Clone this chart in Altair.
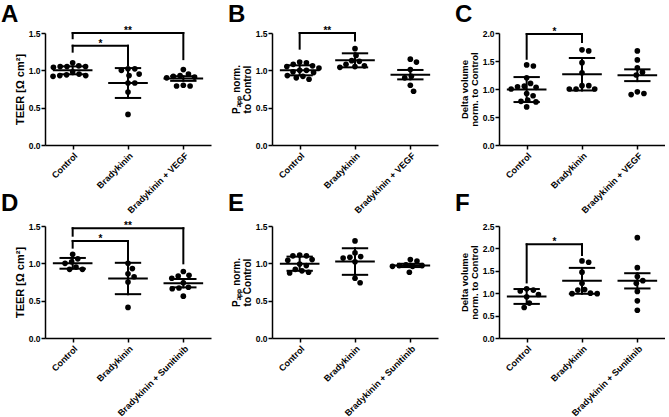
import json

import altair as alt
import pandas as pd

# ---- group names -----------------------------------------------------------
VEGF_GROUPS = ["Control", "Bradykinin", "Bradykinin + VEGF"]
SUN_GROUPS = ["Control", "Bradykinin", "Bradykinin + Sunitinib"]

# ---- A: TEER, VEGF series ----------------------------------------------------
a_control = [1.10, 1.06, 1.05, 1.05, 1.05, 1.04, 0.98, 0.95, 0.94, 0.93, 0.93, 0.92]
a_brady = [1.02, 1.02, 1.00, 0.95, 0.93, 0.83, 0.83, 0.71, 0.41]
a_treat = [1.01, 0.95, 0.93, 0.92, 0.91, 0.90, 0.80, 0.79, 0.79]
a_mean = [1.00, 0.83, 0.89]
a_err = [0.053, 0.20, 0.031]
a_sig = [("**", 0, 2, 1.50, 1.43, 1.15), ("*", 0, 1, 1.33, 1.25, 1.07)]

# ---- B: Papp, VEGF series ----------------------------------------------------
b_control = [1.11, 1.10, 1.08, 1.06, 1.05, 1.03, 1.00, 1.00, 0.98, 0.97, 0.93, 0.92, 0.90, 0.88]
b_brady = [1.29, 1.20, 1.13, 1.12, 1.08, 1.06, 1.05, 1.04]
b_treat = [1.15, 1.11, 1.01, 0.92, 0.90, 0.80, 0.72]
b_mean = [1.00, 1.134, 0.942]
b_err = [0.067, 0.094, 0.063]
b_sig = [("**", 0, 1, 1.50, 1.29, 1.40)]

# ---- C: delta volume, VEGF series ---------------------------------------------
c_control = [1.43, 1.41, 1.20, 1.10, 1.05, 1.04, 1.03, 1.00, 0.92, 0.88, 0.80, 0.78, 0.77, 0.68]
c_brady = [1.70, 1.68, 1.47, 1.29, 1.06, 1.06, 1.00, 1.00, 1.00]
c_treat = [1.68, 1.52, 1.38, 1.30, 1.25, 0.95, 0.90, 0.92]
c_mean = [0.99, 1.264, 1.246]
c_err = [0.223, 0.29, 0.105]
c_sig = [("*", 0, 1, 1.98, 1.54, 1.84)]

# ---- D: TEER, Sunitinib series -------------------------------------------------
d_control = [1.12, 1.06, 1.02, 1.00, 0.95, 0.92, 0.92]
d_brady = [1.00, 0.93, 0.86, 0.82, 0.75, 0.41]
d_treat = [0.89, 0.84, 0.83, 0.80, 0.74, 0.68, 0.67, 0.66, 0.56]
d_mean = [1.00, 0.797, 0.734]
d_err = [0.072, 0.21, 0.056]
d_sig = [("**", 0, 2, 1.47, 1.37, 1.00), ("*", 0, 1, 1.30, 1.21, 1.03)]

# ---- E: Papp, Sunitinib series -------------------------------------------------
e_control = [1.11, 1.10, 1.10, 1.05, 1.04, 0.99, 0.97, 0.92, 0.90, 0.88, 0.87]
e_brady = [1.30, 1.14, 1.09, 1.08, 1.07, 1.02, 0.80, 0.74]
e_treat = [1.05, 1.03, 0.98, 0.97, 0.97, 0.96, 0.96, 0.88]
e_mean = [0.995, 1.024, 0.972]
e_err = [0.095, 0.178, 0.022]
e_sig = []

# ---- F: delta volume, Sunitinib series -----------------------------------------
f_control = [1.10, 1.07, 1.05, 0.97, 0.92, 0.78, 0.68]
f_brady = [1.72, 1.69, 1.47, 1.22, 1.08, 1.07, 1.00, 0.99, 0.99]
f_treat = [2.24, 1.57, 1.37, 1.28, 1.22, 1.04, 0.83, 0.62]
f_mean = [0.927, 1.276, 1.276]
f_err = [0.166, 0.289, 0.17]
f_sig = [("*", 0, 1, 2.09, 1.24, 1.85)]

# ---- geometry / style ----------------------------------------------------------
W, H = 166, 112
FONT = "Liberation Sans"
DOT_SIZE = 32
DOT_GAP = 6.8          # centre-to-centre spacing of dots in the swarm (px)
MEAN_HALF = 0.34       # half length of the mean line (x units)
CAP_HALF = 0.22        # half length of the error-bar caps (x units)


def swarm(values, px_per_unit):
    """Greedy beeswarm: horizontal pixel offsets so that dots do not overlap."""
    placed = []
    out = [0.0] * len(values)
    for i in sorted(range(len(values)), key=lambda k: -values[k]):
        yp = values[i] * px_per_unit
        blocked = []
        for xo, yo in placed:
            dy = abs(yp - yo)
            if dy < DOT_GAP:
                half = (DOT_GAP ** 2 - dy ** 2) ** 0.5
                blocked.append((xo - half, xo + half))
        cands = [0.0] + [e for iv in blocked for e in iv]
        free = [c for c in cands if all(not (lo + 1e-9 < c < hi - 1e-9) for lo, hi in blocked)]
        best = min(free, key=lambda c: (round(abs(c), 6), -c))
        placed.append((best, yp))
        out[i] = best
    return out


def panel(letter, letter_dy, groups, series, means, errs, ymax, ytitle, title_size, sig):
    step_px = W / 3.0
    y_px = H / ymax

    pts = []
    for gi, vals in enumerate(series):
        for v, off in zip(vals, swarm(vals, y_px)):
            pts.append({"x": gi + off / step_px, "y": v})
    pts = pd.DataFrame(pts)

    segs = []
    for gi, (m, e) in enumerate(zip(means, errs)):
        segs.append({"x": gi - MEAN_HALF, "x2": gi + MEAN_HALF, "y": m, "y2": m})
        segs.append({"x": gi, "x2": gi, "y": m - e, "y2": m + e})
        segs.append({"x": gi - CAP_HALF, "x2": gi + CAP_HALF, "y": m + e, "y2": m + e})
        segs.append({"x": gi - CAP_HALF, "x2": gi + CAP_HALF, "y": m - e, "y2": m - e})
    stars = []
    for label, g1, g2, top, low1, low2 in sig:
        segs.append({"x": g1, "x2": g2, "y": top, "y2": top})
        segs.append({"x": g1, "x2": g1, "y": low1, "y2": top})
        segs.append({"x": g2, "x2": g2, "y": low2, "y2": top})
        stars.append({"x": (g1 + g2) / 2.0, "y": top, "t": label})
    segs = pd.DataFrame(segs)

    expr = "[" + ",".join(json.dumps(g) for g in groups) + "][datum.value]"
    xs = alt.Scale(domain=[-0.5, 2.5], nice=False, zero=False)
    ys = alt.Scale(domain=[0, ymax], nice=False, zero=True)
    x_axis = alt.Axis(values=[0, 1, 2], labelExpr=expr, labelAngle=-45, labelOverlap=False,
                      labelFontSize=9, labelPadding=2, title=None)
    ticks = [i * 0.5 for i in range(int(round(ymax / 0.5)) + 1)]
    y_axis = alt.Axis(values=ticks, format=".1f", title=ytitle, labelOverlap=False,
                      titleFontSize=title_size, titlePadding=3, titleLineHeight=title_size + 0.5)

    X = alt.X("x:Q", scale=xs, axis=x_axis)
    Y = alt.Y("y:Q", scale=ys, axis=y_axis)

    dots = alt.Chart(pts).mark_circle(size=DOT_SIZE, color="black", opacity=1).encode(x=X, y=Y)
    lines = alt.Chart(segs).mark_rule(color="black", strokeWidth=2, strokeCap="square").encode(
        x=X, x2="x2:Q", y=Y, y2="y2:Q")
    layers = [lines, dots]
    if stars:
        layers.append(
            alt.Chart(pd.DataFrame(stars)).mark_text(
                font=FONT, fontWeight="bold", fontSize=10, baseline="alphabetic", dy=1, color="#000000"
            ).encode(x=X, y=Y, text="t:N")
        )
    layers.append(
        alt.Chart(pd.DataFrame({"t": [letter]})).mark_text(
            font=FONT, fontWeight="bold", fontSize=24, align="left", baseline="alphabetic", color="#000000"
        ).encode(x=alt.value(-44), y=alt.value(letter_dy), text="t:N")
    )
    return alt.layer(*layers).properties(width=W, height=H)


TEER = "TEER [Ω cm²]"
PAPP = ["Pₐₚₚ norm.", "to Control"]
DVOL = ["Delta volume", "norm. to Control"]

panels = [
    panel("A", -11, VEGF_GROUPS, [a_control, a_brady, a_treat], a_mean, a_err, 1.5, TEER, 11, a_sig),
    panel("B", -11, VEGF_GROUPS, [b_control, b_brady, b_treat], b_mean, b_err, 1.5, PAPP, 10, b_sig),
    panel("C", -11, VEGF_GROUPS, [c_control, c_brady, c_treat], c_mean, c_err, 2.0, DVOL, 9.5, c_sig),
    panel("D", -15, SUN_GROUPS, [d_control, d_brady, d_treat], d_mean, d_err, 1.5, TEER, 11, d_sig),
    panel("E", -15, SUN_GROUPS, [e_control, e_brady, e_treat], e_mean, e_err, 1.5, PAPP, 10, e_sig),
    panel("F", -15, SUN_GROUPS, [f_control, f_brady, f_treat], f_mean, f_err, 2.5, DVOL, 9.5, f_sig),
]

chart = (
    alt.concat(*panels, columns=3, spacing=alt.RowColnumber(row=81, column=61), bounds="flush")
    .properties(padding={"left": 1, "top": 3, "right": 0, "bottom": 0})
    .configure_view(stroke=None)
    .configure_axis(
        grid=False,
        domainColor="black",
        domainWidth=1.5,
        tickColor="black",
        tickWidth=1.5,
        tickSize=4,
        labelFont=FONT,
        labelFontWeight="bold",
        labelFontSize=8.5,
        labelColor="black",
        labelPadding=1,
        titleFont=FONT,
        titleFontWeight="bold",
        titleColor="black",
    )
)

chart.save("out.html", embed_options={"renderer": "svg", "actions": False})
